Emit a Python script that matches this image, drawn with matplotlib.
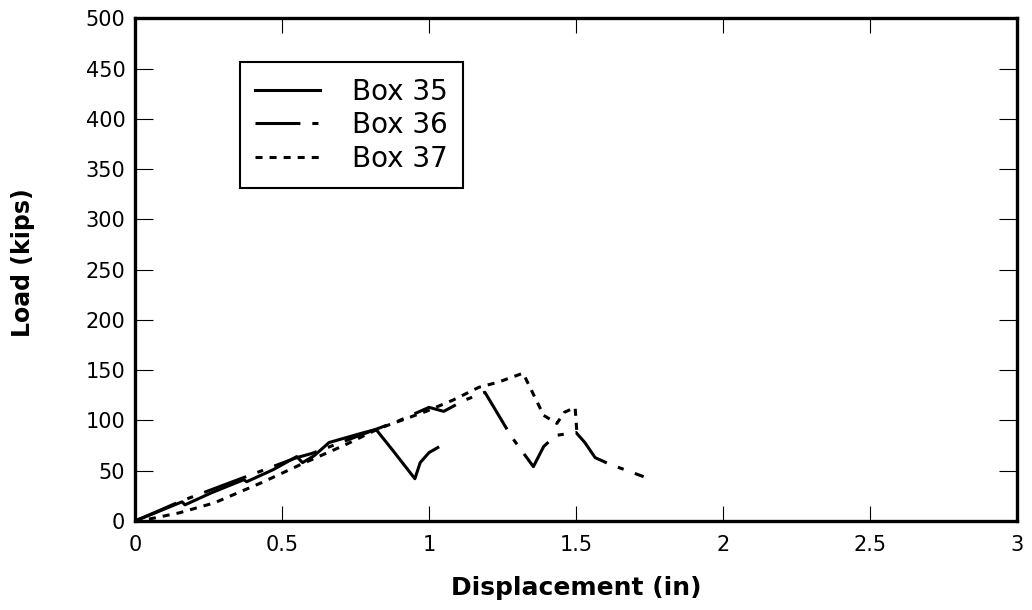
import matplotlib
matplotlib.use("Agg")
import matplotlib.pyplot as plt

# values
box35_x = [0, 0.06, 0.16, 0.17, 0.26, 0.37, 0.38, 0.47, 0.55, 0.57, 0.61, 0.66, 0.72, 0.78, 0.82, 0.88, 0.952, 0.97, 1.00, 1.03]
box35_y = [0, 7, 19, 16, 28, 41, 39, 51, 64, 58, 65, 78, 83, 88, 91, 69, 42, 58, 68, 73]

box36_x = [0, 0.08, 0.15, 0.25, 0.35, 0.45, 0.55, 0.60, 0.70, 0.80, 0.90, 1.00, 1.05, 1.12, 1.19, 1.28, 1.355, 1.39, 1.43, 1.50, 1.53, 1.565, 1.61, 1.73]
box36_y = [0, 10, 19, 30, 41, 52, 63, 67, 78, 89, 100, 113, 109, 120, 128, 84, 54, 74, 85, 88, 78, 63, 57, 44]

box37_x = [0, 0.05, 0.15, 0.27, 0.43, 0.57, 0.71, 0.83, 0.99, 1.08, 1.17, 1.235, 1.32, 1.39, 1.435, 1.46, 1.497, 1.503]
box37_y = [0, 2, 8, 18, 38, 57, 75, 92, 109, 120, 133, 138, 147, 105, 97, 108, 113, 88]

x_ticks = [0, 0.5, 1, 1.5, 2, 2.5, 3]
x_labels = ["0", "0.5", "1", "1.5", "2", "2.5", "3"]
y_ticks = list(range(0, 501, 50))

fig = plt.figure(figsize=(10.32, 6.10), dpi=100)
ax = fig.add_axes([0.1308, 0.146, 0.8547, 0.824])

lw = 2.2
ax.plot(box35_x, box35_y, color="black", lw=lw, label="Box 35")
ax.plot(box36_x, box36_y, color="black", lw=lw, dashes=(14.7, 3.9, 2.0, 3.9), label="Box 36")
ax.plot(box37_x, box37_y, color="black", lw=lw, dashes=(2.3, 2.3), label="Box 37")

ax.set_xlim(0, 3)
ax.set_ylim(0, 500)
ax.set_xticks(x_ticks)
ax.set_xticklabels(x_labels)
ax.set_yticks(y_ticks)

for s in ax.spines.values():
    s.set_linewidth(2.4)

ax.tick_params(axis="x", direction="in", length=11, width=0.8, top=True, pad=10, labelsize=15)
ax.tick_params(axis="y", direction="in", length=13, width=0.8, right=True, pad=7, labelsize=15)

ax.set_xlabel("Displacement (in)", fontsize=18, fontweight="bold")
ax.set_ylabel("Load (kips)", fontsize=17, fontweight="bold")
ax.xaxis.set_label_coords(0.5, -0.11)
ax.yaxis.set_label_coords(-0.113, 0.513)

leg = ax.legend(loc="upper left", bbox_to_anchor=(0.119, 0.9125), borderaxespad=0,
                fontsize=20, handlelength=2.34, handletextpad=1.15, borderpad=0.55,
                labelspacing=0.2, fancybox=False, framealpha=1)
leg.get_frame().set_edgecolor("black")
leg.get_frame().set_linewidth(1.5)

fig.savefig("out.png", dpi=100)
